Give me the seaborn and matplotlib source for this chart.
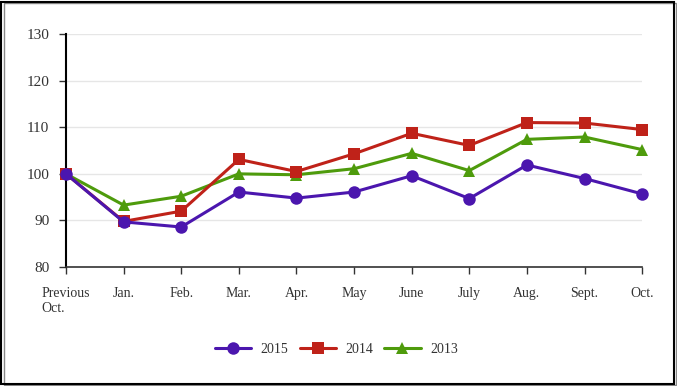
import matplotlib
matplotlib.use("Agg")
import matplotlib.pyplot as plt
import seaborn as sns
import pandas as pd
from matplotlib.patches import Rectangle

# data
months = ["Previous\nOct.", "Jan.", "Feb.", "Mar.", "Apr.", "May", "June",
          "July", "Aug.", "Sept.", "Oct."]
y2015 = [100.0, 89.7, 88.6, 96.1, 94.8, 96.1, 99.6, 94.7, 101.9, 99.0, 95.7]
y2014 = [100.0, 89.8, 92.0, 103.1, 100.5, 104.3, 108.7, 106.1, 111.0, 110.9, 109.5]
y2013 = [100.0, 93.3, 95.2, 100.0, 99.8, 101.1, 104.4, 100.7, 107.4, 107.9, 105.2]

series = [("2015", y2015, "#4B16AE", "o", 9, 5),
          ("2014", y2014, "#BF2219", "s", 8.5, 4),
          ("2013", y2013, "#4E9B0C", "^", 9, 3)]

sns.set_style("white")
plt.rcParams['font.family'] = ['Liberation Serif', 'DejaVu Serif']

fig = plt.figure(figsize=(6.77, 3.86), dpi=100)
ax = fig.add_axes([0.0975, 0.308, 0.851, 0.604])

for name, vals, color, marker, ms, z in series:
    df = pd.DataFrame({"x": range(len(months)), "y": vals})
    sns.lineplot(data=df, x="x", y="y", ax=ax, color=color, marker=marker,
                 markersize=ms, markeredgewidth=0, linewidth=2.2, label=name,
                 zorder=z, clip_on=False)

ax.set_xlim(0, len(months) - 1)
ax.set_ylim(80, 130)
ax.set_yticks([80, 90, 100, 110, 120, 130])
ax.set_xticks(range(len(months)))
ax.set_xticklabels(months, multialignment="left")
ax.set_xlabel("")
ax.set_ylabel("")
ax.grid(axis="y", color="#e6e6e6", linewidth=1)
ax.set_axisbelow(True)

for s in ["top", "right"]:
    ax.spines[s].set_visible(False)
ax.spines["left"].set_color("black")
ax.spines["left"].set_linewidth(1.5)
ax.spines["bottom"].set_color("#333333")
ax.spines["bottom"].set_linewidth(1.2)
ax.tick_params(axis="both", direction="out", length=5, width=1, color="#333333",
               labelcolor="#333333", bottom=True, left=True)
ax.tick_params(axis="x", pad=9, labelsize=10)
ax.tick_params(axis="y", pad=7, labelsize=11)

leg = ax.legend(loc="center", bbox_to_anchor=(0.497, 0.095), bbox_transform=fig.transFigure,
                ncol=3, frameon=False, fontsize=10, handlelength=2.6,
                columnspacing=0.8, handletextpad=0.7)
for t in leg.get_texts():
    t.set_color("#333333")

# frame around the whole figure
fig.patches.append(Rectangle((0.002, 0.006), 0.993, 0.99, transform=fig.transFigure,
                             fill=False, edgecolor="black", linewidth=1.5))
fig.patches.append(Rectangle((0.006, 0.003), 0.993, 0.99, transform=fig.transFigure,
                             fill=False, edgecolor="#888888", linewidth=1, zorder=-1))

fig.savefig("out.png", dpi=100)
